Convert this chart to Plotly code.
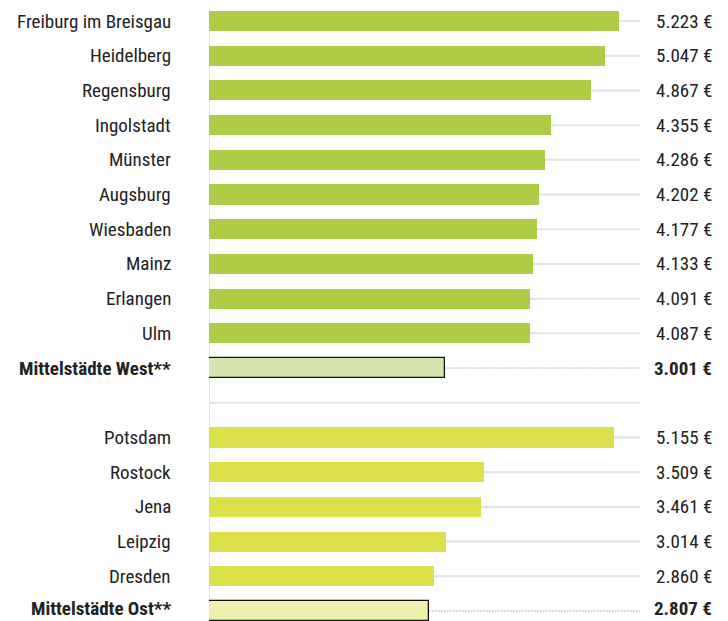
import plotly.graph_objects as go

staedte_west = ["Freiburg im Breisgau", "Heidelberg", "Regensburg", "Ingolstadt", "Münster",
                "Augsburg", "Wiesbaden", "Mainz", "Erlangen", "Ulm"]
werte_west = [5223, 5047, 4867, 4355, 4286, 4202, 4177, 4133, 4091, 4087]
mittel_west = ("Mittelstädte West**", 3001)

staedte_ost = ["Potsdam", "Rostock", "Jena", "Leipzig", "Dresden"]
werte_ost = [5155, 3509, 3461, 3014, 2860]
mittel_ost = ("Mittelstädte Ost**", 2807)

# zeilen aufbauen (eine leere zeile zwischen west und ost)
namen = staedte_west + [mittel_west[0]] + [None] + staedte_ost + [mittel_ost[0]]
werte = werte_west + [mittel_west[1]] + [None] + werte_ost + [mittel_ost[1]]
farben = (["#AECB45"] * len(werte_west) + ["#D7E6AE"] + ["rgba(0,0,0,0)"]
          + ["#DCE04A"] * len(werte_ost) + ["#EFF0B0"])
ist_mittel = [n in (mittel_west[0], mittel_ost[0]) for n in namen]
pos = list(range(len(namen)))

FONT = "Liberation Sans Narrow, Roboto Condensed, DejaVu Sans Condensed, Arial Narrow, sans-serif"
GRID_END = 5490
LABEL_X = 6420

fig = go.Figure()
fig.add_trace(go.Bar(
    x=[w if w is not None else 0 for w in werte], y=pos, orientation="h",
    width=0.58,
    marker=dict(color=farben,
                line=dict(color="#111111", width=[1.3 if m else 0 for m in ist_mittel])),
    hoverinfo="skip",
))

shapes = []
annotations = []
for p, n, w, m in zip(pos, namen, werte, ist_mittel):
    if n is None:
        shapes.append(dict(type="line", x0=0, x1=GRID_END, y0=p, y1=p, layer="below",
                           line=dict(color="#DDE3E8", width=2)))
        continue
    if m:
        shapes.append(dict(type="line", x0=w, x1=GRID_END, y0=p, y1=p, layer="below",
                           line=dict(color="#666666", width=1, dash="1px,2px")))
    else:
        shapes.append(dict(type="line", x0=0, x1=GRID_END, y0=p, y1=p, layer="below",
                           line=dict(color="#DDE3E8", width=2)))
    txt = f"{w:,}".replace(",", ".") + " €"
    if m:
        txt = "<b>" + txt + "</b>"
        lab = "<b>" + n + "</b>"
    else:
        lab = n
    # letzte zeile etwas anheben, damit der text nicht unten abgeschnitten wird
    ys = 3 if p == pos[-1] else 0
    annotations.append(dict(x=LABEL_X, y=p, xref="x", yref="y", text=txt, showarrow=False,
                            xanchor="right", yanchor="middle", yshift=ys, borderpad=0,
                            font=dict(family=FONT, size=19, color="#222222")))
    annotations.append(dict(x=0, y=p, xref="paper", yref="y", text=lab, showarrow=False,
                            xanchor="right", yanchor="middle", xshift=-37, yshift=ys, borderpad=0,
                            font=dict(family=FONT, size=19, color="#222222")))

# senkrechte achse
shapes.append(dict(type="line", x0=0, x1=0, y0=-0.375, y1=17.3, layer="below",
                   line=dict(color="#E3E6E9", width=2)))

fig.update_layout(
    width=720, height=613,
    margin=dict(l=201, r=0, t=0, b=0),
    paper_bgcolor="white", plot_bgcolor="white",
    showlegend=False,
    xaxis=dict(range=[0, 6611], visible=False, fixedrange=True),
    yaxis=dict(range=[17.288, -0.375], visible=False, fixedrange=True),
    shapes=shapes, annotations=annotations,
    bargap=0,
)

fig.write_html("out.html")
